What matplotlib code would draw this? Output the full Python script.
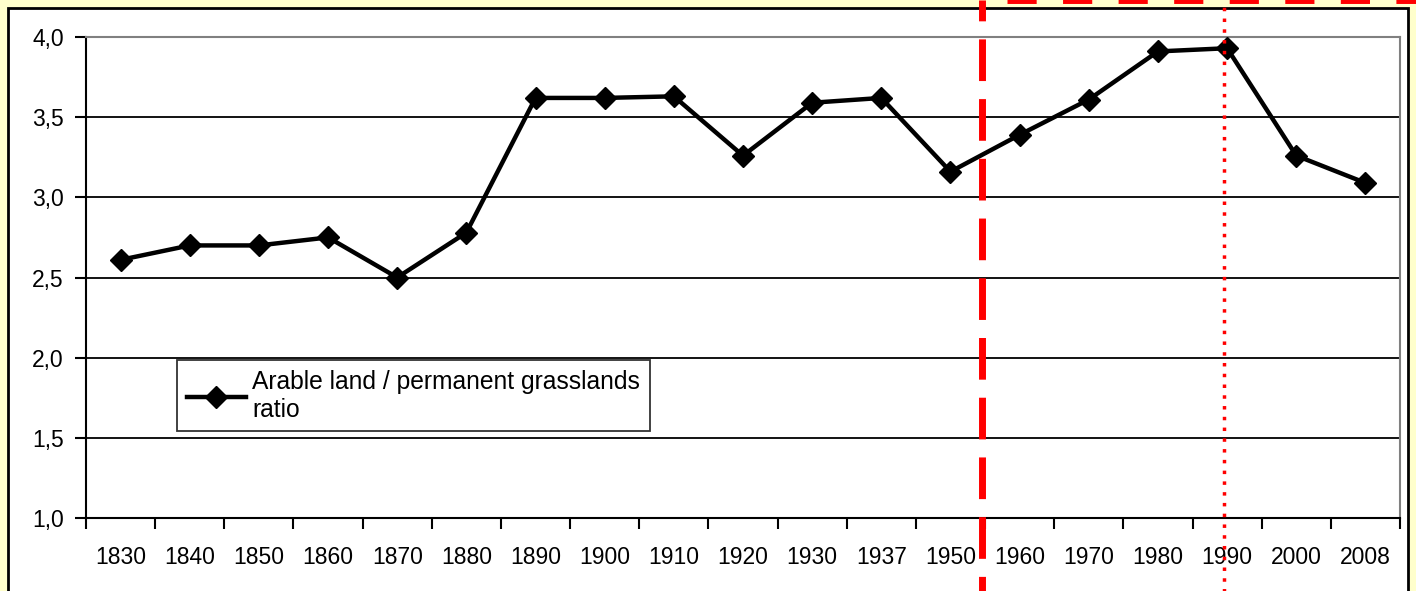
import numpy as np
import matplotlib
matplotlib.use("Agg")
import matplotlib.pyplot as plt
from matplotlib.patches import Rectangle

plt.rcParams['font.family'] = ['Liberation Sans', 'DejaVu Sans']

# data
years = ["1830", "1840", "1850", "1860", "1870", "1880", "1890", "1900", "1910", "1920",
         "1930", "1937", "1950", "1960", "1970", "1980", "1990", "2000", "2008"]
ratio = [2.61, 2.70, 2.70, 2.75, 2.50, 2.78, 3.62, 3.62, 3.63, 3.26,
         3.59, 3.62, 3.16, 3.39, 3.61, 3.91, 3.93, 3.26, 3.09]
y_ticks = [1.0, 1.5, 2.0, 2.5, 3.0, 3.5, 4.0]
series_label = "Arable land / permanent grasslands\nratio"

W, H = 1416, 591
fig = plt.figure(figsize=(W / 100, H / 100), dpi=100)
fig.patch.set_facecolor("#FFFFCC")

# white chart area with black frame (drawn under the axes)
fig.patches.append(Rectangle((8 / W, -0.05), 1400 / W, (H - 8) / H + 0.05,
                             transform=fig.transFigure, facecolor="white",
                             edgecolor="black", linewidth=2, zorder=-5))

ax = fig.add_axes([86 / W, 1 - 518 / H, 1314 / W, 481 / H])
ax.set_facecolor("white")

x = np.arange(len(years))
for v in y_ticks[1:-1]:
    ax.axhline(v, color="black", linewidth=1.3, zorder=1)

ax.plot(x, ratio, color="black", linewidth=3.2, marker="D", markersize=11,
        label=series_label, zorder=3)

ax.set_xlim(-0.5, len(years) - 0.5)
ax.set_ylim(1.0, 4.0)
ax.set_yticks(y_ticks)
ax.set_yticklabels([f"{v:.1f}".replace(".", ",") for v in y_ticks])
ax.set_xticks(x)
ax.set_xticklabels(years)
ax.set_xticks(np.arange(len(years) + 1) - 0.5, minor=True)
ax.tick_params(axis="x", which="major", length=0, pad=20, labelsize=16.5)
ax.tick_params(axis="x", which="minor", length=8, width=1.5, direction="out")
ax.tick_params(axis="y", length=8, width=1.5, direction="out", pad=8, labelsize=16.5)

for side in ["top", "right"]:
    ax.spines[side].set_color("#808080")
    ax.spines[side].set_linewidth(1.5)
for side in ["left", "bottom"]:
    ax.spines[side].set_color("black")
    ax.spines[side].set_linewidth(1.5)

leg = ax.legend(loc="upper left", bbox_to_anchor=(0.0693, 0.3285), borderaxespad=0,
                fontsize=17.7, frameon=True, fancybox=False, edgecolor="black",
                handlelength=2.4, handletextpad=0.25, borderpad=0.4, labelspacing=0.2)
leg.get_frame().set_linewidth(1.3)
leg.set_zorder(4)

# red period markers (drawn from the top down)
ax.axvline(12.45, ymin=(518 - 0) / 481, ymax=-0.16, color="red", linewidth=5,
           linestyle=(3, (6, 2.6)), clip_on=False, zorder=5)
ax.axhline(4.0 + 3 * (518 / 481 - 1), xmin=(1007 - 86) / 1314, xmax=1.02, color="red",
           linewidth=5, linestyle=(0, (4.2, 3.8)), clip_on=False, zorder=5)
ax.axvline(15.95, ymin=-0.16, ymax=(518 - 5) / 481, color="red", linewidth=2.5,
           linestyle=(0, (1, 2.1)), clip_on=False, zorder=5)

fig.savefig("out.png", dpi=100, facecolor=fig.get_facecolor())
